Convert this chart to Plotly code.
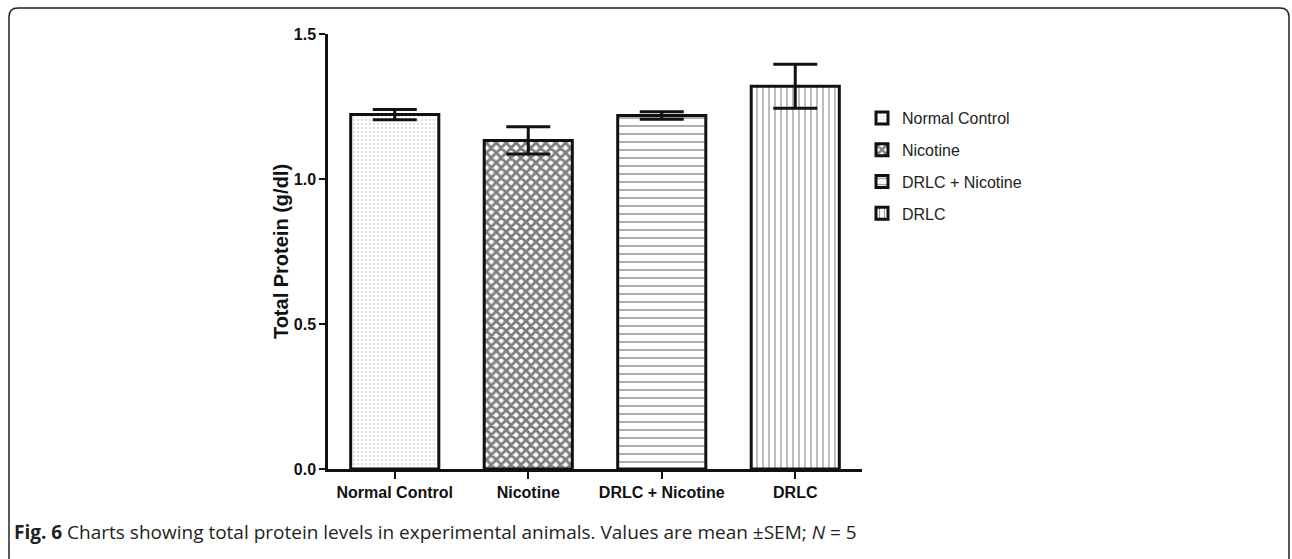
import plotly.graph_objects as go

# Total protein (g/dl), mean and SEM per group
groups = ["Normal Control", "Nicotine", "DRLC + Nicotine", "DRLC"]
means = [1.222, 1.133, 1.219, 1.320]
sems = [0.018, 0.047, 0.013, 0.076]
y_ticks = [0.0, 0.5, 1.0, 1.5]

# fill pattern per group
patterns = [
    dict(shape=".", size=4, solidity=0.1, fgcolor="#555", bgcolor="white"),
    dict(shape="x", size=7, solidity=0.65, fgcolor="#000", bgcolor="white"),
    dict(shape="-", size=8, solidity=0.18, fgcolor="#222", bgcolor="white"),
    dict(shape="|", size=6, solidity=0.2, fgcolor="#222", bgcolor="white"),
]

W, H = 1292, 559
L, R, T, B = 328, 430, 34, 90
pw, ph = W - L - R, H - T - B


def px(x):
    return (x - L) / pw


def py(y):
    return (H - B - y) / ph


fig = go.Figure()
for i, g in enumerate(groups):
    fig.add_trace(go.Bar(
        x=[g], y=[means[i]], name=g, legendgroup=g,
        width=0.66,
        marker=dict(color="white", pattern=patterns[i],
                    line=dict(color="#111", width=3)),
        error_y=dict(type="data", array=[sems[i]], visible=True,
                     color="#111", thickness=3, width=22),
    ))

# rounded figure frame
x0, x1, y0, y1, r = px(9), px(1289), py(8), py(566), 9
rx, ry = r / pw, r / ph
frame = (f"M {x0},{y1 + ry} L {x0},{y0 - ry} Q {x0},{y0} {x0 + rx},{y0} "
         f"L {x1 - rx},{y0} Q {x1},{y0} {x1},{y0 - ry} L {x1},{y1 + ry} "
         f"Q {x1},{y1} {x1 - rx},{y1} L {x0 + rx},{y1} Q {x0},{y1} {x0},{y1 + ry} Z")
fig.add_shape(type="path", path=frame, xref="paper", yref="paper",
              line=dict(color="#222", width=1.5), fillcolor="rgba(0,0,0,0)",
              layer="below")

fig.add_annotation(
    text="<b>Fig. 6</b> Charts showing total protein levels in experimental animals. "
         "Values are mean ±SEM; <i>N</i> = 5",
    xref="paper", yref="paper", x=px(12), y=py(532),
    xanchor="left", yanchor="middle", showarrow=False,
    font=dict(family="Open Sans", size=19, color="#231f20"),
)

axis_font = dict(family="Liberation Sans, Arial", size=16, color="#111", weight="bold")

fig.update_layout(
    width=W, height=H,
    margin=dict(l=L, r=R, t=T, b=B),
    paper_bgcolor="white", plot_bgcolor="white",
    bargap=0.34,
    showlegend=True,
    legend=dict(x=px(862), y=py(101), xanchor="left", yanchor="top",
                font=dict(family="Liberation Sans, Arial", size=16, color="#222"),
                tracegroupgap=8, bgcolor="rgba(0,0,0,0)"),
    xaxis=dict(range=[-0.5, 3.5], showline=True, linecolor="#111", linewidth=2.5,
               ticks="outside", ticklen=7, tickwidth=2, tickcolor="#111",
               tickfont=axis_font, showgrid=False, zeroline=False, fixedrange=True),
    yaxis=dict(range=[0, 1.5], tickvals=y_ticks, tickformat=".1f",
               showline=True, linecolor="#111", linewidth=2.5,
               ticks="outside", ticklen=6, tickwidth=2, tickcolor="#111",
               tickfont=axis_font, showgrid=False, zeroline=False,
               title=dict(text="Total Protein (g/dl)", standoff=0,
                          font=dict(family="Liberation Sans, Arial", size=20,
                                    color="#111", weight="bold"))),
)

fig.write_html("out.html")
